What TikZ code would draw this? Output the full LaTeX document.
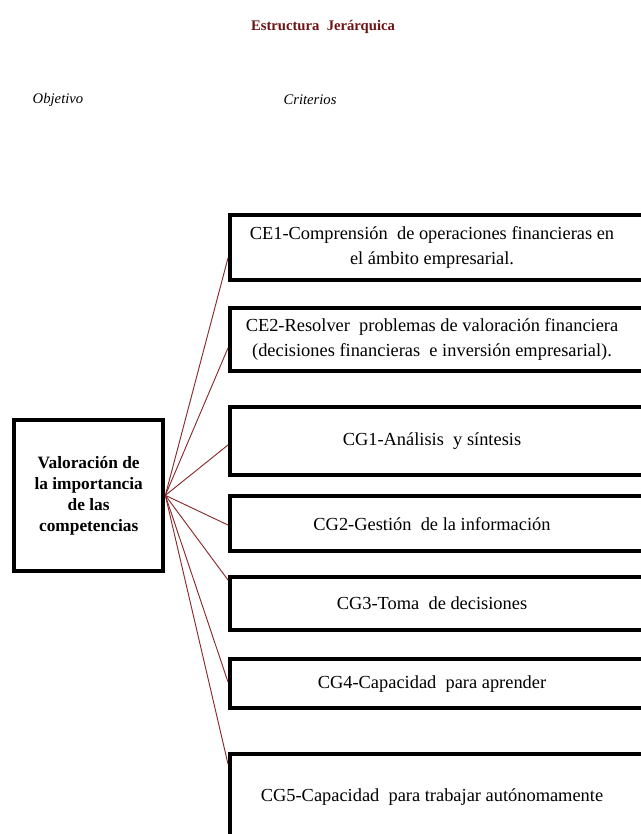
\documentclass[tikz,border=0pt]{standalone}
\usepackage{fontspec}
\setmainfont{Liberation Serif}
\usetikzlibrary{calc}
\definecolor{linkred}{HTML}{8B2A2A}
\definecolor{titlered}{HTML}{6E1414}
\begin{document}
\begin{tikzpicture}[x=0.75pt,y=-0.75pt]
\tikzset{
  critbox/.style={draw=black, line width=3pt, anchor=north west, minimum width=321pt, inner sep=0pt},
  crittext/.style={font=\fontsize{13.8}{18.75}\selectfont, align=center},
  head/.style={font=\itshape\fontsize{11}{13}\selectfont},
  link/.style={draw=linkred, line width=0.7pt},
}
\useasboundingbox (0,0) rectangle (641,834);
\clip (0,0) rectangle (641,834);
\fill[white] (0,0) rectangle (641,834);

\node[font=\bfseries\fontsize{11}{13}\selectfont, text=titlered] (title) at (323,27) {Estructura\ \ Jerárquica};
\node[head] (objh) at (58,100) {Objetivo};
\node[head] (crith) at (310,100) {Criterios};

\node[draw=black, line width=3pt, anchor=north west, minimum width=112pt, minimum height=113pt,
      inner sep=0pt, align=center, font=\bfseries\fontsize{13}{15.75}\selectfont] (goal) at (12,418)
      {Valoración de\\la importancia\\de las\\competencias};

\coordinate (tx) at (432,0);

\node[critbox, minimum height=49pt] (ce1) at (228,213) {};
\node[critbox, minimum height=47pt] (ce2) at (228,306) {};
\node[critbox, minimum height=51pt] (cg1) at (228,405) {};
\node[critbox, minimum height=41.5pt] (cg2) at (228,494) {};
\node[critbox, minimum height=40pt] (cg3) at (228,575) {};
\node[critbox, minimum height=37pt] (cg4) at (228,657) {};
\node[critbox, minimum height=65pt] (cg5) at (228,752) {};

\node[crittext] (ce1t) at (ce1.center -| tx) {CE1-Comprensión\ \ de operaciones financieras en\\el ámbito empresarial.};
\node[crittext] (ce2t) at (ce2.center -| tx) {CE2-Resolver\ \ problemas de valoración financiera\\(decisiones financieras\ \ e inversión empresarial).};
\node[crittext] (cg1t) at (cg1.center -| tx) {CG1-Análisis\ \ y síntesis};
\node[crittext] (cg2t) at (cg2.center -| tx) {CG2-Gestión\ \ de la información};
\node[crittext] (cg3t) at (cg3.center -| tx) {CG3-Toma\ \ de decisiones};
\node[crittext] (cg4t) at (cg4.center -| tx) {CG4-Capacidad\ \ para aprender};
\node[crittext] (cg5t) at (cg5.center -| tx) {CG5-Capacidad\ \ para trabajar autónomamente};

\draw[link] (goal.east) -- ($(ce1.north west)+(0,45)$);
\draw[link] (goal.east) -- ($(ce2.north west)+(0,42)$);
\draw[link] (goal.east) -- ($(cg1.north west)+(0,40)$);
\draw[link] (goal.east) -- ($(cg2.north west)+(0,31)$);
\draw[link] (goal.east) -- ($(cg3.north west)+(0,5)$);
\draw[link] (goal.east) -- ($(cg4.north west)+(0,25)$);
\draw[link] (goal.east) -- ($(cg5.north west)+(0,12)$);
\end{tikzpicture}
\end{document}
